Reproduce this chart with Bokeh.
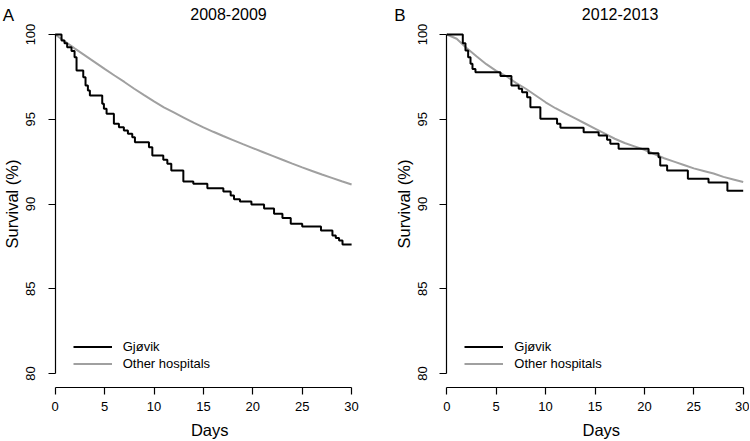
import math
from bokeh.plotting import figure
from bokeh.layouts import row
from bokeh.models import FixedTicker, Label, Legend, LegendItem, Range1d
from bokeh.embed import file_html
from bokeh.resources import INLINE

FONT = "Liberation Sans"

# ---------------- data ----------------
x_ticks = [0, 5, 10, 15, 20, 25, 30]
y_ticks = [80, 85, 90, 95, 100]
series_names = ["Gjøvik", "Other hospitals"]
panel_letters = ["A", "B"]
panel_titles = ["2008-2009", "2012-2013"]
x_label = "Days"
y_label = "Survival (%)"

# Panel A, Gjøvik (Kaplan-Meier steps)
a_gj_days = [0, 0.64, 0.94, 1.21, 1.65, 1.96, 2.16, 2.84, 3.07, 3.31, 3.51, 4.76,
             4.93, 5.2, 5.94, 6.45, 6.95, 7.36, 7.8, 8.07, 9.49, 9.83, 10.94, 11.35,
             11.75, 12.97, 13.98, 15.4, 17.02, 17.76, 18.1, 18.7, 19.86, 21.14, 22.15,
             23.0, 23.84, 25.0, 26.9, 28.06, 28.4, 28.73, 29.08, 30]
a_gj_surv = [100, 99.65, 99.49, 99.25, 99.02, 98.66, 97.88, 97.48, 96.99, 96.70, 96.40, 95.91,
             95.62, 95.32, 94.73, 94.53, 94.34, 94.14, 93.94, 93.65, 93.35, 92.86, 92.61, 92.37,
             91.98, 91.33, 91.19, 90.93, 90.74, 90.50, 90.28, 90.15, 89.97, 89.73, 89.42,
             89.18, 88.83, 88.67, 88.44, 88.14, 88.0, 87.85, 87.61, 87.61]

# Panel A, other hospitals
a_oth_days = list(range(0, 31))
a_oth_surv = [100, 99.58, 99.17, 98.77, 98.37, 97.97, 97.58, 97.2, 96.8, 96.42, 96.05,
              95.7, 95.4, 95.1, 94.8, 94.52, 94.26, 94.01, 93.77, 93.53, 93.3,
              93.07, 92.84, 92.61, 92.38, 92.16, 91.95, 91.74, 91.54, 91.34, 91.15]

# Panel B, Gjøvik
b_gj_days = [0, 1.62, 1.89, 2.16, 2.4, 2.6, 2.9, 5.43, 6.54, 7.28, 7.62, 8.13, 8.46,
             9.47, 11.16, 11.5, 13.85, 15.37, 16.22, 16.55, 17.39, 20.42, 21.43, 21.6,
             22.3, 24.4, 26.49, 28.4, 30]
b_gj_surv = [100, 99.49, 99.06, 98.66, 98.27, 97.97, 97.78, 97.55, 96.99, 96.80, 96.60, 96.30, 95.71,
             95.03, 94.73, 94.50, 94.24, 94.04, 93.79, 93.55, 93.26, 93.0, 92.76, 92.27,
             91.98, 91.49, 91.27, 90.78, 90.78]

# Panel B, other hospitals
b_oth_days = list(range(0, 31))
b_oth_surv = [100, 99.75, 99.2, 98.72, 98.25, 97.85, 97.55, 97.15, 96.8, 96.4, 96.0,
              95.65, 95.35, 95.05, 94.75, 94.45, 94.15, 93.85, 93.6, 93.4, 93.2,
              92.95, 92.7, 92.5, 92.3, 92.1, 91.95, 91.8, 91.6, 91.45, 91.3]

BLACK = "#000000"
GRAY = "#a0a0a0"

# ---------------- layout constants (canvas pixels) ----------------
H = 440
PY100 = 34.0          # pixel row of 100 %
SY = 16.95            # pixels per percentage point
PX_SCALE = 9.88       # pixels per day


def make_panel(letter, title, gj_d, gj_s, oth_d, oth_s, width, px0):
    # px0: canvas x of day 0
    def dx(px):
        return (px - px0) / PX_SCALE

    def dy(py):
        return 100 - (py - PY100) / SY

    p = figure(
        width=width, height=H,
        x_range=Range1d(dx(0), dx(width)), y_range=Range1d(dy(H), dy(0)),
        output_backend="svg", toolbar_location=None, tools="",
        min_border=0, min_border_left=0, min_border_right=0,
        min_border_top=0, min_border_bottom=0,
    )
    p.outline_line_color = None
    p.background_fill_color = "white"
    p.border_fill_color = "white"
    p.grid.visible = False

    r_oth = p.line(oth_d, oth_s, line_color=GRAY, line_width=2)
    r_gj = p.step(gj_d, gj_s, mode="after", line_color=BLACK, line_width=2)

    for ax in (p.xaxis[0], p.yaxis[0]):
        ax.axis_line_color = BLACK
        ax.axis_line_width = 1.2
        ax.major_tick_line_color = BLACK
        ax.major_tick_line_width = 1.2
        ax.major_tick_out = 7
        ax.major_tick_in = 0
        ax.minor_tick_line_color = None
        ax.major_label_text_font = FONT
        ax.major_label_text_font_size = "13px"
        ax.major_label_text_color = BLACK

    p.xaxis.ticker = FixedTicker(ticks=x_ticks)
    p.xaxis.bounds = (0, 30)
    p.xaxis.fixed_location = 79.2
    p.xaxis.major_label_standoff = 8

    p.yaxis.ticker = FixedTicker(ticks=y_ticks)
    p.yaxis.bounds = (80, 100)
    p.yaxis.fixed_location = 0
    p.yaxis.major_label_orientation = "vertical"
    p.yaxis.major_label_standoff = 13

    legend = Legend(
        items=[LegendItem(label=series_names[0], renderers=[r_gj]),
               LegendItem(label=series_names[1], renderers=[r_oth])],
        location=(px0 + 18, H - 372),
        padding=0, margin=0, spacing=0,
        glyph_width=39, glyph_height=17, label_height=17,
        label_standoff=11,
        label_text_font=FONT, label_text_font_size="13px",
        label_text_color=BLACK,
        border_line_alpha=0, background_fill_alpha=0,
    )
    p.add_layout(legend)

    # x axis title
    p.add_layout(Label(x=15.64, y=dy(429), text=x_label, text_align="center",
                       text_baseline="alphabetic", text_font=FONT,
                       text_font_size="16.5px", text_color=BLACK))
    # y axis title
    p.add_layout(Label(x=dx(px0 - 42.8), y=dy(203.5), text=y_label, angle=math.pi / 2,
                       text_align="center", text_baseline="alphabetic", text_font=FONT,
                       text_font_size="16.5px", text_color=BLACK))
    # panel title
    p.add_layout(Label(x=dx(px0 + 173.3), y=dy(13.4), text=title, text_align="center",
                       text_baseline="alphabetic", text_font=FONT,
                       text_font_size="16px", text_color=BLACK))
    # panel letter
    p.add_layout(Label(x=dx(px0 - 52.5), y=dy(15.2), text=letter, text_align="left",
                       text_baseline="alphabetic", text_font=FONT,
                       text_font_size="17px", text_color=BLACK))
    return p


pa = make_panel(panel_letters[0], panel_titles[0], a_gj_days, a_gj_surv,
                a_oth_days, a_oth_surv, 375, 54.7)
pb = make_panel(panel_letters[1], panel_titles[1], b_gj_days, b_gj_surv,
                b_oth_days, b_oth_surv, 374, 71.3)

layout = row(pa, pb, spacing=0)
open("out.html", "w").write(file_html(layout, INLINE))
